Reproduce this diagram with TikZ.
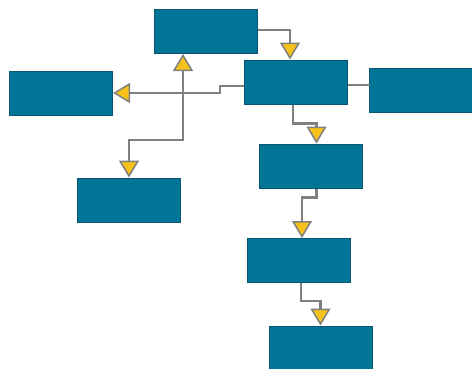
\documentclass[tikz,border=0pt]{standalone}
\usetikzlibrary{arrows.meta}
\definecolor{boxteal}{HTML}{007596}
\definecolor{boxedge}{HTML}{0B5673}
\definecolor{tipyellow}{HTML}{F5C11A}
\definecolor{linegray}{HTML}{808080}
\begin{document}
\begin{tikzpicture}[x=1pt,y=-1pt]
      \tikzstyle{block}=[draw=boxedge,fill=boxteal,line width=1pt,minimum width=103pt,minimum height=44pt,inner sep=0pt]
      \tikzstyle{line}=[draw=linegray,line width=2.6pt]
      \tikzstyle{edge}=[line,-{Triangle[width=20pt,length=17pt,fill=tipyellow,line width=1.5pt]}]
      \tikzstyle{twoway}=[line,{Triangle[width=20pt,length=17pt,fill=tipyellow,line width=1.5pt]}-{Triangle[width=20pt,length=17pt,fill=tipyellow,line width=1.5pt]}]
      \useasboundingbox (0,0) rectangle (472,368);
      \node[block] (T) at (205.5,31.5) {};
      \node[block] (M) at (296,82) {};
      \node[block] (R) at (420.5,90) {};
      \node[block] (L) at (61,93) {};
      \node[block] (BL) at (129,200) {};
      \node[block] (C1) at (310.5,166) {};
      \node[block] (C2) at (299,260.5) {};
      \node[block,minimum height=64pt] (C3) at (320.5,358) {};
      \path[edge] ([yshift=1.5pt]T.east) -| ([xshift=-6pt]M.north);
      \path[edge] ([yshift=-4pt]M.west) -- ++(-24,0) |- (L.east);
      \path[line] ([yshift=-3pt]M.east) -- ++(22,0);
      \path[twoway] ([xshift=-22.5pt]T.south) -- ++(0,86) -| (BL.north);
      \path[edge] ([xshift=-3pt]M.south) -- ++(0,19) -| ([xshift=6pt]C1.north);
      \path[edge] ([xshift=6pt]C1.south) -- ++(0,9) -| ([xshift=3pt]C2.north);
      \path[edge] ([xshift=2pt]C2.south) -- ++(0,18) -| (C3.north);
\end{tikzpicture}
\end{document}
